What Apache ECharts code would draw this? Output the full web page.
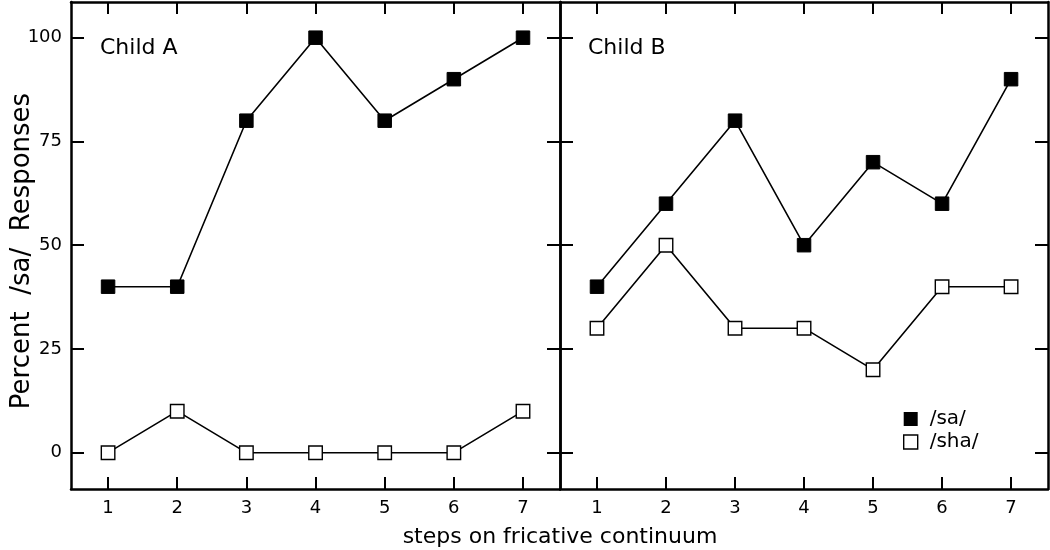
<!DOCTYPE html>
<html>
<head>
<meta charset="utf-8">
<script src="https://cdn.jsdelivr.net/npm/echarts@6.0.0/dist/echarts.min.js"></script>
<style>
  html, body { margin: 0; padding: 0; background: #fff; }
  #main { width: 1050px; height: 550px; }
</style>
</head>
<body>
<div id="main"></div>
<script>
  // 数据
  const steps = [1, 2, 3, 4, 5, 6, 7];
  const yTicks = [0, 25, 50, 75, 100];
  const childASa = [40, 40, 80, 100, 80, 90, 100];
  const childASha = [0, 10, 0, 0, 0, 0, 10];
  const childBSa = [40, 60, 80, 50, 70, 60, 90];
  const childBSha = [30, 50, 30, 30, 20, 40, 40];

  const FONT = 'DejaVu Sans';
  const pair = vals => steps.map((s, i) => [s, vals[i]]);

  // 轴的公共样式
  function xAxisOf(grid, pos, labels) {
    return {
      type: 'value', gridIndex: grid, position: pos,
      min: 0.464, max: 7.535,
      axisLine: { show: true, onZero: false, lineStyle: { color: '#000', width: 2.5 } },
      axisTick: { show: true, inside: true, length: 12, customValues: steps,
                  lineStyle: { color: '#000', width: 2 } },
      axisLabel: { show: labels, customValues: steps, margin: 10,
                   color: '#000', fontFamily: FONT, fontSize: 18 },
      splitLine: { show: false }
    };
  }
  function yAxisOf(grid, pos, labels) {
    return {
      type: 'value', gridIndex: grid, position: pos,
      min: -8.75, max: 108.6,
      axisLine: { show: true, onZero: false, lineStyle: { color: '#000', width: 2.5 } },
      axisTick: { show: true, inside: true, length: 13, customValues: yTicks,
                  lineStyle: { color: '#000', width: 2 } },
      axisLabel: { show: labels, customValues: yTicks, margin: 9,
                   color: '#000', fontFamily: FONT, fontSize: 18 },
      splitLine: { show: false }
    };
  }

  function lineSeries(name, vals, grid, filled) {
    return {
      name: name, type: 'line',
      xAxisIndex: grid * 2, yAxisIndex: grid * 2,
      data: pair(vals),
      symbol: 'rect', symbolSize: 13.5,
      lineStyle: { color: '#000', width: 1.6 },
      itemStyle: filled
        ? { color: '#000', borderColor: '#000', borderWidth: 1 }
        : { color: '#fff', borderColor: '#000', borderWidth: 1.4 },
      emphasis: { disabled: true },
      animation: false,
      z: filled ? 3 : 2
    };
  }

  const chart = echarts.init(document.getElementById('main'));
  chart.setOption({
    backgroundColor: '#fff',
    animation: false,
    grid: [
      { left: 71, top: 2, width: 489, height: 487 },
      { left: 560, top: 2, width: 488, height: 487 }
    ],
    xAxis: [
      xAxisOf(0, 'bottom', true), xAxisOf(0, 'top', false),
      xAxisOf(1, 'bottom', true), xAxisOf(1, 'top', false)
    ],
    yAxis: [
      yAxisOf(0, 'left', true), yAxisOf(0, 'right', false),
      yAxisOf(1, 'left', false), yAxisOf(1, 'right', false)
    ],
    legend: {
      orient: 'vertical', left: 898, top: 404,
      itemWidth: 14, itemHeight: 14, itemGap: 3,
      icon: 'rect',
      textStyle: { fontFamily: FONT, fontSize: 20, color: '#000', padding: [0, 0, 0, 7] },
      data: [
        { name: '/sa/', itemStyle: { color: '#000', borderWidth: 0 } },
        { name: '/sha/', itemStyle: { color: '#fff', borderColor: '#000', borderWidth: 1.4 } }
      ]
    },
    graphic: [
      { type: 'text', left: 100, top: 37,
        style: { text: 'Child A', fontFamily: FONT, fontSize: 22, fill: '#000' } },
      { type: 'text', left: 588, top: 37,
        style: { text: 'Child B', fontFamily: FONT, fontSize: 22, fill: '#000' } },
      { type: 'text', x: 22, y: 251, rotation: Math.PI / 2,
        style: { text: 'Percent  /sa/  Responses', fontFamily: FONT, fontSize: 26, fill: '#000',
                 align: 'center', verticalAlign: 'middle' } },
      { type: 'text', x: 560, y: 537,
        style: { text: 'steps on fricative continuum', fontFamily: FONT, fontSize: 22, fill: '#000',
                 align: 'center', verticalAlign: 'middle' } }
    ],
    series: [
      lineSeries('/sha/', childASha, 0, false),
      lineSeries('/sa/', childASa, 0, true),
      lineSeries('/sha/', childBSha, 1, false),
      lineSeries('/sa/', childBSa, 1, true)
    ]
  });
</script>
</body>
</html>
